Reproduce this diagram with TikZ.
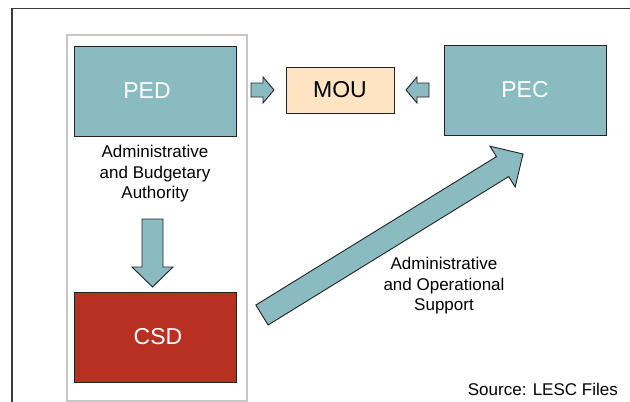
\documentclass[tikz,border=0pt]{standalone}
\usepackage{fontspec}
\setmainfont{Liberation Sans}
\usetikzlibrary{calc}
\definecolor{tealf}{HTML}{8ABBC1}
\definecolor{csdred}{HTML}{B83021}
\definecolor{moufill}{HTML}{FFE4C4}
\definecolor{edge}{HTML}{222222}
\definecolor{framegray}{HTML}{3A3A3A}
\definecolor{boxgray}{HTML}{C6C6C6}
\tikzset{
  tealbox/.style={draw=edge, line width=1pt, fill=tealf, minimum width=162pt, minimum height=90pt, inner sep=0pt, text=white, font=\fontsize{23}{27}\selectfont},
  redbox/.style={tealbox, fill=csdred},
  moubox/.style={draw=edge, line width=1pt, fill=moufill, minimum width=108pt, minimum height=46pt, inner sep=0pt, text=black, font=\fontsize{23}{27}\selectfont},
  lbl/.style={align=center, inner sep=0pt, font=\fontsize{17}{20.5}\selectfont},
  blockarrow/.style={draw=edge, line width=0.9pt, fill=tealf, line join=miter},
}
% #1 start, #2 end, #3 shaft half width, #4 head half width, #5 head length
\newcommand\blockarr[5]{%
  \coordinate (#1-#2-b) at ($(#2)!#5!(#1)$);
  \draw[blockarrow] ($(#1)!#3!90:(#2)$) -- ($(#1-#2-b)!#3!90:(#2)$) -- ($(#1-#2-b)!#4!90:(#2)$) -- (#2)
    -- ($(#1-#2-b)!#4!-90:(#2)$) -- ($(#1-#2-b)!#3!-90:(#2)$) -- ($(#1)!#3!-90:(#2)$) -- cycle;
}
\begin{document}
\begin{tikzpicture}[x=1pt, y=-1pt]
\useasboundingbox (0,0) rectangle (630,402);
\clip (0,0) rectangle (630,402);
% outer frame
\draw[framegray, line width=1.5pt] (12,420) -- (12,8.5) -- (650,8.5);
% grey container
\draw[boxgray, line width=2.5pt] (67,35) rectangle (247,401);
% boxes
\node[tealbox] (PED) at (155,91) {\hspace*{-16pt}PED};
\node[redbox] (CSD) at (155,337) {\hspace*{6pt}CSD};
\node[moubox] (MOU) at (340,90) {MOU};
\node[tealbox] (PEC) at (525,90) {PEC};
% labels
\node[lbl] (authlbl) at (155,174) {Administrative\\and Budgetary\\Authority};
\node[lbl] (supplbl) at (444,286) {Administrative\\and Operational\\Support};
\node[lbl, anchor=east] (src) at (618,389) {Source: LESC Files};
% arrow end points
\coordinate (a1s) at (251,90);
\coordinate (a1e) at (274,90);
\coordinate (a2s) at (429,90);
\coordinate (a2e) at (406,90);
\coordinate (a3s) at (152.5,219);
\coordinate (a3e) at (152.5,287);
\coordinate (a4s) at (262,315);
\coordinate (a4e) at (523,154);
\blockarr{a1s}{a1e}{7pt}{13pt}{11pt}
\blockarr{a2s}{a2e}{7pt}{13pt}{11pt}
\blockarr{a3s}{a3e}{10.5pt}{20.5pt}{20pt}
\blockarr{a4s}{a4e}{11.7pt}{24pt}{24pt}
\end{tikzpicture}
\end{document}
